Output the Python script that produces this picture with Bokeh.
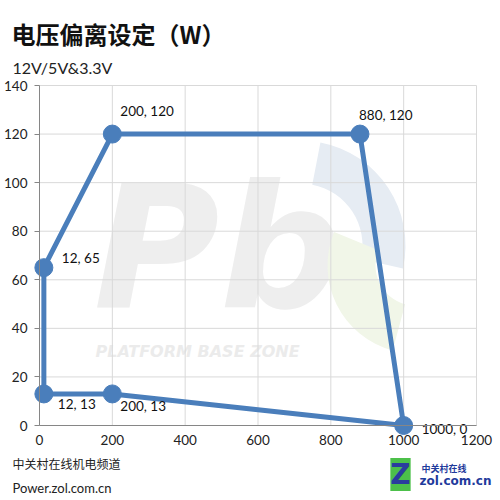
from bokeh.plotting import figure
from bokeh.models import Range1d, ColumnDataSource, Label, FixedTicker, LinearAxis
from bokeh.core.properties import value
from bokeh.embed import file_html
from bokeh.resources import INLINE

# ---- data ----
pt_x = [12, 200, 880, 1000, 200, 12]
pt_y = [65, 120, 120, 0, 13, 13]
pt_labels = ["12, 65", "200, 120", "880, 120", "1000, 0", "200, 13", "12, 13"]
x_ticks = [0, 200, 400, 600, 800, 1000, 1200]
y_ticks = [0, 20, 40, 60, 80, 100, 120, 140]
title_text = "电压偏离设定（W）"
subtitle_text = "12V/5V&3.3V"
footer1 = "中关村在线机电频道"
footer2 = "Power.zol.com.cn"

# label offsets in pixels (styling, not data)
lab_dx = [18, 8, -1, 18, 8, 14]
lab_dy = [-10, -23, -19, 3, 12, 10]

BLUE = "#4A7EBB"
GRID = "#d9d9d9"
AXIS = "#868686"
W, H = 500, 500
FL, FR, FT, FB = 39, 476, 85, 425   # plotting area in page pixels
XMIN, XMAX = x_ticks[0], x_ticks[-1]
YMIN, YMAX = y_ticks[0], y_ticks[-1]
SX = (FR - FL) / (XMAX - XMIN)
SY = (FB - FT) / (YMAX - YMIN)

def dx(px):
    return XMIN + (px - FL) / SX

def dy(py):
    return YMIN + (FB - py) / SY

p = figure(width=W, height=H,
           x_range=Range1d(dx(0), dx(W)), y_range=Range1d(dy(H), dy(0)),
           output_backend="svg", toolbar_location=None,
           x_axis_location=None, y_axis_location=None,
           min_border=0)
p.outline_line_color = None
p.xgrid.visible = False
p.ygrid.visible = False
p.background_fill_color = "white"
p.border_fill_color = "white"

# ---- watermark (lowest level) ----
p.text(x=[dx(93)], y=[dy(247)], text=["Pb"], text_font=value("DejaVu Sans"),
       text_font_style="bold italic", text_font_size="172px", text_color="#eeeeee",
       text_align="left", text_baseline="middle", level="image")
p.text(x=[dx(95)], y=[dy(351)], text=["PLATFORM BASE ZONE"], text_font=value("DejaVu Sans"),
       text_font_style="bold italic", text_font_size="16px", text_color="#ebebeb",
       text_align="left", text_baseline="middle", level="image")
p.annular_wedge(x=[dx(300)], y=[dy(245)], inner_radius=62, outer_radius=105,
                inner_radius_units="screen", outer_radius_units="screen",
                start_angle=-0.22, end_angle=1.38, fill_color="#e6ecf3", line_color=None,
                level="image")
p.annular_wedge(x=[dx(415)], y=[dy(265)], inner_radius=40, outer_radius=88,
                inner_radius_units="screen", outer_radius_units="screen",
                start_angle=2.75, end_angle=4.45, fill_color="#f1f6e8", line_color=None,
                level="image")

# ---- grid lines, limited to the plotting area ----
p.segment(x0=x_ticks, y0=[YMIN] * len(x_ticks), x1=x_ticks, y1=[YMAX] * len(x_ticks),
          line_color=GRID, line_width=1, level="underlay")
p.segment(x0=[XMIN] * len(y_ticks), y0=y_ticks, x1=[XMAX] * len(y_ticks), y1=y_ticks,
          line_color=GRID, line_width=1, level="underlay")

# ---- axes ----
xaxis = LinearAxis(fixed_location=YMIN, bounds=(XMIN, XMAX), ticker=FixedTicker(ticks=x_ticks))
yaxis = LinearAxis(fixed_location=XMIN, bounds=(YMIN, YMAX), ticker=FixedTicker(ticks=y_ticks))
for ax in (xaxis, yaxis):
    ax.axis_line_color = AXIS
    ax.major_tick_line_color = AXIS
    ax.minor_tick_line_color = None
    ax.major_tick_in = 0
    ax.major_label_text_font = "Lato"
    ax.major_label_text_font_size = "13.5px"
    ax.major_label_text_color = "#222222"
yaxis.major_tick_out = 5
yaxis.major_label_standoff = 7
xaxis.major_tick_out = 0
xaxis.major_label_standoff = 9
p.add_layout(xaxis, "below")
p.add_layout(yaxis, "left")

# ---- polygon line ----
src = ColumnDataSource(dict(x=pt_x + [pt_x[0]], y=pt_y + [pt_y[0]]))
p.line("x", "y", source=src, line_color=BLUE, line_width=5, line_join="round")
pts = ColumnDataSource(dict(x=pt_x, y=pt_y, t=pt_labels, dx=lab_dx, dy=lab_dy))
p.scatter("x", "y", source=pts, size=18, fill_color=BLUE, line_color=BLUE)
p.text("x", "y", text="t", source=pts, x_offset="dx", y_offset="dy",
       text_font=value("Lato"), text_font_size="13.5px", text_color="#111111",
       text_align="left", text_baseline="middle")

# ---- titles and footer ----
p.add_layout(Label(x=dx(11), y=dy(33), text=title_text, text_font="Noto Sans CJK SC",
                   text_font_style="bold", text_font_size="24px", text_color="#111111",
                   text_baseline="middle", text_align="left"))
p.add_layout(Label(x=dx(12), y=dy(67), text=subtitle_text, text_font="Lato",
                   text_font_size="16px", text_color="#222222",
                   text_baseline="middle", text_align="left"))
p.add_layout(Label(x=dx(12), y=dy(463), text=footer1, text_font="Noto Sans CJK SC",
                   text_font_size="12px", text_color="#222222",
                   text_baseline="middle", text_align="left"))
p.add_layout(Label(x=dx(12), y=dy(487), text=footer2, text_font="Lato",
                   text_font_size="13px", text_color="#222222",
                   text_baseline="middle", text_align="left"))

# ---- ZOL logo ----
p.add_layout(Label(x=dx(400), y=dy(474), text="Z", text_font="DejaVu Sans",
                   text_font_style="bold", text_font_size="28px", text_color="#2a3c9e",
                   background_fill_color="#4cc04a", text_baseline="middle",
                   text_align="center"))
p.add_layout(Label(x=dx(421), y=dy(468), text="中关村在线", text_font="Noto Sans CJK SC",
                   text_font_style="bold", text_font_size="9px", text_color="#1f3b9c",
                   text_baseline="middle", text_align="left"))
p.add_layout(Label(x=dx(419), y=dy(480), text="zol.com.cn", text_font="DejaVu Sans",
                   text_font_style="bold", text_font_size="12px", text_color="#1f3b9c",
                   text_baseline="middle", text_align="left"))

open("out.html", "w").write(file_html(p, INLINE))
